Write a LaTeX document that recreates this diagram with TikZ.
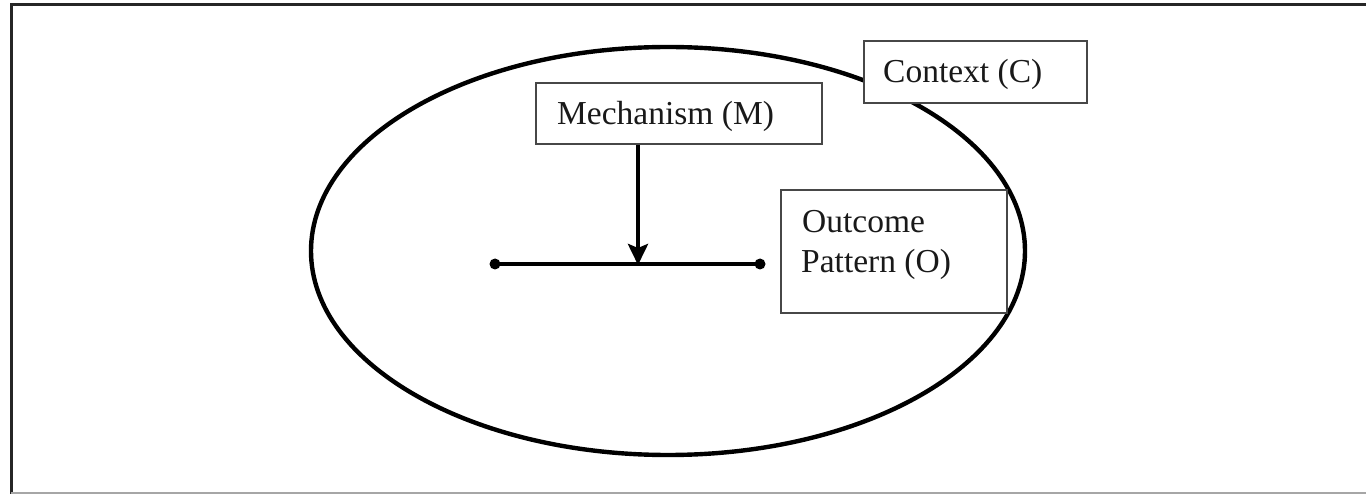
\documentclass[tikz,border=0pt]{standalone}
\usepackage{fontspec}
\setmainfont{Liberation Serif}
\usetikzlibrary{arrows.meta}
\begin{document}
\begin{tikzpicture}[x=1pt,y=-1pt,
  label text/.style={font=\fontsize{33.5}{40}\selectfont, text=black!90, inner sep=0pt},
  boxnode/.style={draw=black!72, line width=2pt, rectangle, inner sep=0pt},
  heavy/.style={line width=4.4pt, black},
  endpoint/.style={circle, fill=black, inner sep=0pt, minimum size=11pt}
]
\useasboundingbox (0,0) rectangle (1366,494);
% frame
\draw[line width=3pt, black!85] (1366,4.5) -- (11,4.5) -- (11,494);
\draw[line width=2pt, black!35] (11,493) -- (1366,493);

% context ellipse
\draw[heavy] (668,251) ellipse [x radius=357, y radius=204];

% boxes
\node[boxnode, fill=white, anchor=north west, minimum width=286pt, minimum height=61pt] (mech) at (535,82) {};
\node[boxnode, fill=white, anchor=north west, minimum width=223pt, minimum height=62pt] (ctx) at (863,40) {};
\node[boxnode, anchor=north west, minimum width=226pt, minimum height=123pt] (out) at (780,189) {};

% labels
\node[label text, anchor=base west] (mechtxt) at (557,125) {Mechanism (M)};
\node[label text, anchor=base west] (ctxtxt) at (883,83) {Context (C)};
\node[label text, anchor=base west] (outtxt1) at (802,233) {Outcome};
\node[label text, anchor=base west] (outtxt2) at (801,273) {Pattern (O)};

% mechanism acting on the C-O link
\node[endpoint] (left) at (495,264) {};
\node[endpoint] (right) at (760,264) {};
\coordinate (hit) at (638,264);
\draw[heavy] (left.center) -- (right.center);
\draw[heavy, -{Stealth[length=21pt, width=20pt, inset=4pt]}] (mech.south -| hit) -- ([yshift=-1pt]hit);
\end{tikzpicture}
\end{document}
